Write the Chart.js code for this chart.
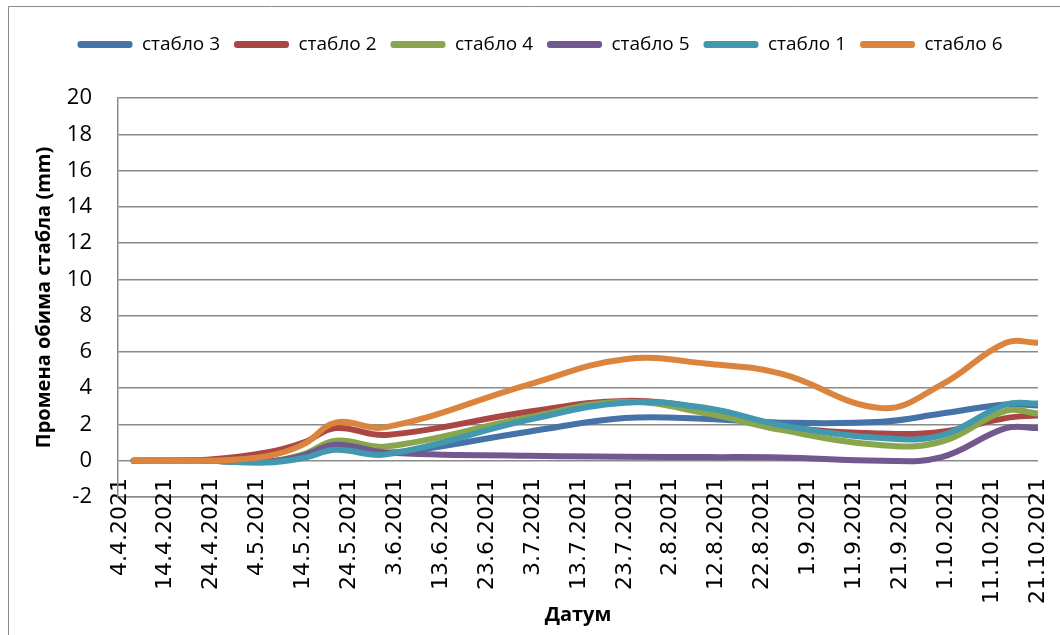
<!DOCTYPE html>
<html>
<head>
<meta charset="utf-8">
<script src="https://cdn.jsdelivr.net/npm/chart.js@4.4.0/dist/chart.umd.min.js"></script>
<style>
  body { margin: 0; background: #fff; }
  #wrap { width: 1060px; height: 635px; }
</style>
</head>
<body>
<div id="wrap"><canvas id="chart" width="1060" height="635"></canvas></div>
<script>
// датуми мерења
const measureDates = ['7.4.2021', '23.4.2021', '6.5.2021', '14.5.2021', '21.5.2021', '1.6.2021', '2.7.2021',
    '23.7.2021', '10.8.2021', '26.8.2021', '17.9.2021', '30.9.2021', '14.10.2021', '21.10.2021'];

// ознаке на x оси
const tickDates = ['4.4.2021', '14.4.2021', '24.4.2021', '4.5.2021', '14.5.2021', '24.5.2021', '3.6.2021',
    '13.6.2021', '23.6.2021', '3.7.2021', '13.7.2021', '23.7.2021', '2.8.2021', '12.8.2021', '22.8.2021',
    '1.9.2021', '11.9.2021', '21.9.2021', '1.10.2021', '11.10.2021', '21.10.2021'];

const seriesNames = ['стабло 3', 'стабло 2', 'стабло 4', 'стабло 5', 'стабло 1', 'стабло 6'];
const seriesColors = ['#4572A7', '#AA4643', '#89A54E', '#71588F', '#4198AF', '#DB843D'];

const stablo3 = [0, 0, -0.05, 0.2, 0.75, 0.42, 1.6, 2.35, 2.3, 2.1, 2.15, 2.6, 3.1, 3.05];
const stablo2 = [0, 0.05, 0.45, 1.0, 1.8, 1.42, 2.7, 3.3, 2.85, 1.9, 1.5, 1.6, 2.35, 2.5];
const stablo4 = [0, 0, -0.05, 0.35, 1.1, 0.78, 2.4, 3.25, 2.6, 1.7, 0.85, 1.05, 2.75, 2.6];
const stablo5 = [0, 0, -0.05, 0.3, 0.88, 0.45, 0.27, 0.22, 0.2, 0.18, 0.0, 0.2, 1.8, 1.8];
const stablo1 = [0, 0, -0.1, 0.15, 0.6, 0.35, 2.25, 3.2, 2.9, 1.97, 1.25, 1.4, 3.1, 3.15];
const stablo6 = [0, 0, 0.25, 0.9, 2.1, 1.85, 4.2, 5.6, 5.35, 4.8, 2.9, 4.2, 6.5, 6.5];

const seriesValues = [stablo3, stablo2, stablo4, stablo5, stablo1, stablo6];

// дани од 4.4.2021
const baseDay = Date.UTC(2021, 3, 4);
const toDay = (s) => {
    const [d, m, y] = s.split('.').map(Number);
    return (Date.UTC(y, m - 1, d) - baseDay) / 86400000;
};
const tickDays = tickDates.map(toDay);
const measureDays = measureDates.map(toDay);
const dayLabel = {};
tickDates.forEach((t, i) => { dayLabel[tickDays[i]] = t; });

const gridColor = '#8a8a8a';

const datasets = seriesNames.map((name, i) => ({
    label: name,
    data: measureDays.map((x, j) => ({ x: x, y: seriesValues[i][j] })),
    borderColor: seriesColors[i],
    backgroundColor: seriesColors[i],
    borderWidth: 6,
    borderCapStyle: 'round',
    borderJoinStyle: 'round',
    pointRadius: 0,
    tension: 0.4,
    fill: false,
    order: seriesNames.length - i   // каснија серија се црта преко
}));

// оквир графикона
const framePlugin = {
    id: 'frame',
    beforeDraw(chart) {
        const ctx = chart.ctx;
        ctx.save();
        ctx.strokeStyle = '#8a8a8a';
        ctx.lineWidth = 1;
        ctx.beginPath();
        ctx.moveTo(8.5, 640);
        ctx.lineTo(8.5, 6.5);
        ctx.lineTo(1060, 6.5);
        ctx.stroke();
        ctx.restore();
    }
};

// додатни простор испод легенде
const legendGap = {
    id: 'legendGap',
    beforeLayout(chart) {
        const legend = chart.legend;
        if (legend && !legend._gapPatched) {
            const fit = legend.fit;
            legend.fit = function () {
                fit.call(this);
                this.height += 34;
            };
            legend._gapPatched = true;
        }
    }
};

new Chart(document.getElementById('chart').getContext('2d'), {
    type: 'line',
    data: { datasets: datasets },
    plugins: [framePlugin, legendGap],
    options: {
        responsive: false,
        animation: false,
        layout: { padding: { top: 21, right: 22, bottom: 0, left: 42 } },
        plugins: {
            tooltip: { enabled: false },
            legend: {
                position: 'top',
                labels: {
                    boxWidth: 55,
                    boxHeight: 7,
                    padding: 14,
                    color: '#000',
                    font: { family: 'Open Sans', size: 19 },
                    useBorderRadius: true,
                    borderRadius: 3,
                    generateLabels: (chart) => Chart.defaults.plugins.legend.labels.generateLabels(chart)
                        .map(l => ({ ...l, lineWidth: 0, fillStyle: l.strokeStyle })),
                    sort: (a, b) => a.datasetIndex - b.datasetIndex
                }
            }
        },
        scales: {
            x: {
                type: 'linear',
                min: -0.4,
                max: 200,
                afterBuildTicks: (scale) => { scale.ticks = tickDays.map(v => ({ value: v })); },
                afterFit: (scale) => {
                    scale.height = 138;
                    // ознаке почињу изнад линије осе, као у Excel-у
                    scale._computeLabelArea = () => undefined;
                },
                grid: { display: false, drawTicks: false },
                border: { display: true, color: gridColor, width: 1.5 },
                ticks: {
                    autoSkip: false,
                    minRotation: 90,
                    maxRotation: 90,
                    padding: -19,
                    color: '#000',
                    font: { family: 'DejaVu Sans', size: 22 },
                    callback: (v) => dayLabel[v] || ''
                },
                title: {
                    display: true,
                    text: 'Датум',
                    color: '#000',
                    font: { family: 'Open Sans', size: 20, weight: 'bold' },
                    padding: { top: 0, bottom: 8 }
                }
            },
            y: {
                min: -2,
                max: 20,
                afterFit: (scale) => { scale.width = 76; },
                grid: { color: gridColor, lineWidth: 1.5, drawTicks: false },
                border: { display: true, color: gridColor, width: 1.5 },
                ticks: {
                    stepSize: 2,
                    padding: 26,
                    color: '#000',
                    font: { family: 'Open Sans', size: 22 }
                },
                title: {
                    display: true,
                    text: 'Промена обима стабла (mm)',
                    color: '#000',
                    font: { family: 'Open Sans', size: 20, weight: 'bold' },
                    padding: { top: -10, bottom: 0 }
                }
            }
        }
    }
});
</script>
</body>
</html>
